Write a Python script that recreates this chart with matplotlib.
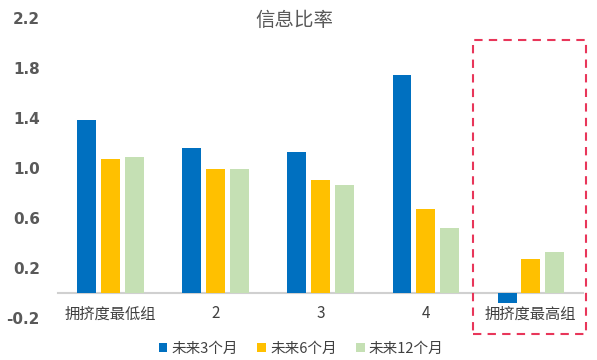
import numpy as np
import matplotlib.pyplot as plt
from matplotlib.patches import Rectangle

plt.rcParams['font.family'] = ['Noto Sans CJK SC', 'DejaVu Sans']

groups = ["拥挤度最低组", "2", "3", "4", "拥挤度最高组"]
series_names = ["未来3个月", "未来6个月", "未来12个月"]
ir_3m = [1.38, 1.16, 1.13, 1.74, -0.08]
ir_6m = [1.07, 0.99, 0.90, 0.67, 0.27]
ir_12m = [1.09, 0.99, 0.86, 0.52, 0.33]
colors = ['#0070C0', '#FFC000', '#C5E0B4']

fig = plt.figure(figsize=(5.97, 3.6), dpi=100)
ax = fig.add_axes([0.097, 0.117, 0.88, 0.833])

x = np.arange(len(groups))
w = 0.18
step = 0.225
for i, (vals, name) in enumerate(zip([ir_3m, ir_6m, ir_12m], series_names)):
    ax.bar(x + (i - 1) * step, vals, width=w, color=colors[i], label=name, zorder=3)

ax.set_xlim(-0.5, 4.5)
ax.set_ylim(-0.2, 2.2)
ax.set_yticks([-0.2, 0.2, 0.6, 1.0, 1.4, 1.8, 2.2])
ax.set_yticklabels(["-0.2", "0.2", "0.6", "1.0", "1.4", "1.8", "2.2"],
                   fontsize=11, fontweight='bold', color='#595959', family='DejaVu Sans')
ax.tick_params(axis='y', length=0, pad=13)

for s in ['top', 'right', 'left']:
    ax.spines[s].set_visible(False)
ax.spines['bottom'].set_position(('data', 0))
ax.spines['bottom'].set_color('#d0d0d0')
ax.spines['bottom'].set_linewidth(1.5)
ax.set_xticks(x)
ax.set_xticklabels(groups, fontsize=11, color='#404040')
ax.tick_params(axis='x', length=0, pad=9)

ax.set_title("信息比率", fontsize=14, color='#595959', x=0.45, y=0.975, pad=0)

# highlight box around the most crowded group
box = Rectangle((3.45, -0.33), 1.075, 2.35, fill=False, edgecolor='#E8365A',
                linestyle=(0, (4, 3)), linewidth=1.5, clip_on=False, zorder=4)
ax.add_patch(box)

ax.legend(loc='upper center', bbox_to_anchor=(0.463, -0.035), ncol=3, frameon=False,
          fontsize=10.5, handlelength=0.6, handleheight=0.6, handletextpad=0.3,
          columnspacing=1.3, labelcolor='#404040')

fig.savefig("out.png", dpi=100)
